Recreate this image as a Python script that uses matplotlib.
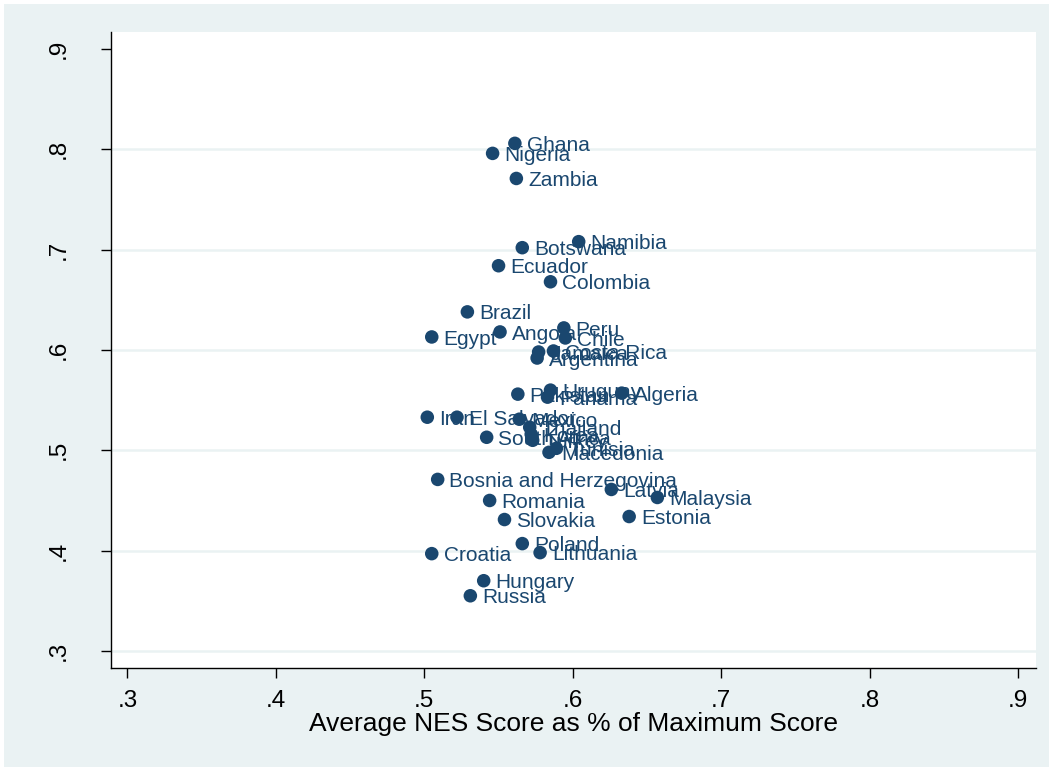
import matplotlib
matplotlib.use("Agg")
import matplotlib.pyplot as plt
from matplotlib.patches import Rectangle

plt.rcParams['font.family'] = ['Liberation Sans', 'DejaVu Sans']

countries = ["Ghana", "Nigeria", "Zambia", "Namibia", "Botswana", "Ecuador",
             "Colombia", "Brazil", "Egypt", "Angola", "Peru", "Chile",
             "Costa Rica", "Jamaica", "Argentina", "Pakistan", "Uruguay",
             "Panama", "Algeria", "Iran", "El Salvador", "Mexico", "Thailand",
             "Korea", "South Africa", "Turkey", "Macedonia", "Tunisia",
             "Bosnia and Herzegovina", "Latvia", "Malaysia", "Romania",
             "Estonia", "Slovakia", "Poland", "Lithuania", "Croatia",
             "Hungary", "Russia"]

nes_score = [0.561, 0.546, 0.562, 0.604, 0.566, 0.550,
             0.585, 0.529, 0.505, 0.551, 0.594, 0.595,
             0.587, 0.577, 0.576, 0.563, 0.585,
             0.583, 0.633, 0.502, 0.522, 0.564, 0.571,
             0.572, 0.542, 0.573, 0.584, 0.589,
             0.509, 0.626, 0.657, 0.544,
             0.638, 0.554, 0.566, 0.578, 0.505,
             0.540, 0.531]

y_value = [0.806, 0.796, 0.771, 0.708, 0.702, 0.684,
           0.668, 0.638, 0.613, 0.618, 0.622, 0.612,
           0.599, 0.598, 0.592, 0.556, 0.560,
           0.553, 0.557, 0.533, 0.533, 0.531, 0.523,
           0.516, 0.513, 0.510, 0.498, 0.502,
           0.471, 0.461, 0.453, 0.450,
           0.434, 0.431, 0.407, 0.398, 0.397,
           0.370, 0.355]

ticks = [0.3, 0.4, 0.5, 0.6, 0.7, 0.8, 0.9]
tick_labels = [".3", ".4", ".5", ".6", ".7", ".8", ".9"]

W, H = 1053, 769
navy = "#1a476f"
bg = "#eaf2f3"

fig = plt.figure(figsize=(W / 100, H / 100), dpi=100, facecolor="white")
fig.patches.append(Rectangle((4 / W, 2 / H), 1045 / W, 763 / H,
                             transform=fig.transFigure, facecolor=bg,
                             edgecolor="none", zorder=-10))

left, right, top, bottom = 111, 1036, 32, 668
ax = fig.add_axes([left / W, 1 - bottom / H, (right - left) / W, (bottom - top) / H])
ax.set_facecolor("white")

ax.set_xlim(0.2889, 0.9121)
ax.set_ylim(0.283, 0.917)

for t in ticks[:-1]:
    ax.axhline(t, color=bg, lw=1.8, zorder=0)

ax.scatter(nes_score, y_value, s=95, color=navy, edgecolors="none", zorder=3)
for name, x, y in zip(countries, nes_score, y_value):
    ax.annotate(name, (x, y), xytext=(8.5, -1.5), textcoords="offset points",
                ha="left", va="center", fontsize=15, color=navy, zorder=4)

ax.set_xticks(ticks)
ax.set_xticklabels(tick_labels)
ax.set_yticks(ticks)
ax.set_yticklabels(tick_labels, rotation=90, va="center")

for s in ["top", "right"]:
    ax.spines[s].set_visible(False)
for s in ["left", "bottom"]:
    ax.spines[s].set_color("black")
    ax.spines[s].set_linewidth(1.0)

ax.tick_params(axis="x", length=7, width=1, colors="black", labelsize=17.5, pad=9)
ax.tick_params(axis="y", length=7, width=1, colors="black", labelsize=17.5, pad=23)

ax.set_xlabel("Average NES Score as % of Maximum Score", fontsize=19, labelpad=0)

fig.savefig("out.png", dpi=100, facecolor="white")
